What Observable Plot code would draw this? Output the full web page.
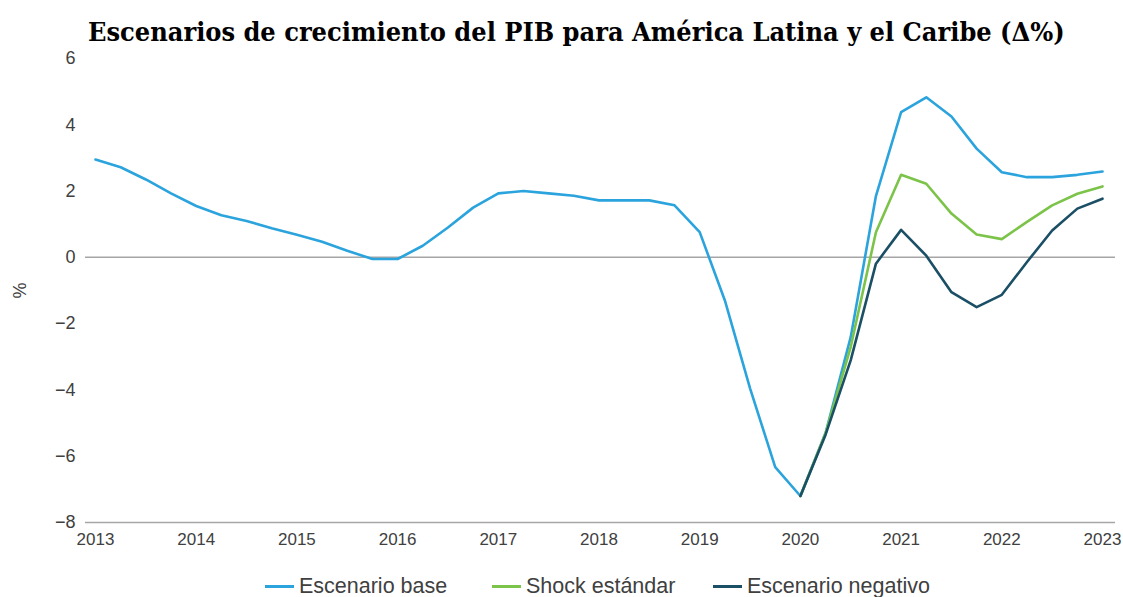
<!DOCTYPE html>
<html>
<head>
<meta charset="utf-8">
<script src="https://cdn.jsdelivr.net/npm/d3@7"></script>
<script src="https://cdn.jsdelivr.net/npm/@observablehq/plot@0.6"></script>
<style>
  html, body { margin: 0; padding: 0; background: #fff; width: 1123px; height: 597px; overflow: hidden; }
  #title { display: block; overflow: visible; }
  #chart svg { display: block; overflow: visible; }
  #legend { height: 24px; margin-top: 17px; position: relative; font-family: "Liberation Sans", Arial, sans-serif; font-size: 21.5px; color: #404040; }
  .item { position: absolute; top: 0; line-height: 24px; white-space: nowrap; }
  .sw { display: inline-block; width: 29px; height: 3px; vertical-align: middle; margin-right: 5px; position: relative; top: -1px; }
</style>
</head>
<body>
<svg id="title" width="1123" height="52">
  <text id="titleText" x="88" y="41" font-family="'DejaVu Serif Condensed', 'DejaVu Serif', serif" font-weight="bold" font-size="31" fill="#000">Escenarios de crecimiento del PIB para América Latina y el Caribe (Δ%)</text>
</svg>
<div id="chart"></div>
<div id="legend"></div>
<script>
const seriesNames = ["Escenario base", "Shock estándar", "Escenario negativo"];
const seriesColors = ["#2ba3dd", "#7cc349", "#1a4f66"];

const periodsBase = [
  2013.00, 2013.25, 2013.50, 2013.75,
  2014.00, 2014.25, 2014.50, 2014.75,
  2015.00, 2015.25, 2015.50, 2015.75,
  2016.00, 2016.25, 2016.50, 2016.75,
  2017.00, 2017.25, 2017.50, 2017.75,
  2018.00, 2018.25, 2018.50, 2018.75,
  2019.00, 2019.25, 2019.50, 2019.75,
  2020.00, 2020.25, 2020.50, 2020.75,
  2021.00, 2021.25, 2021.50, 2021.75,
  2022.00, 2022.25, 2022.50, 2022.75,
  2023.00
];
const base = [
  2.95, 2.72, 2.35, 1.93,
  1.55, 1.27, 1.10, 0.88,
  0.68, 0.47, 0.20, -0.05,
  -0.05, 0.35, 0.90, 1.50,
  1.93, 2.00, 1.93, 1.86,
  1.72, 1.72, 1.72, 1.57,
  0.76, -1.30, -3.95, -6.33,
  -7.20, -5.30, -2.40, 1.85,
  4.38, 4.83, 4.25, 3.28,
  2.57, 2.42, 2.42, 2.49,
  2.59
];

const periodsScen = [
  2020.00, 2020.25, 2020.50, 2020.75,
  2021.00, 2021.25, 2021.50, 2021.75,
  2022.00, 2022.25, 2022.50, 2022.75,
  2023.00
];
const shock = [-7.20, -5.30, -2.70, 0.76, 2.49, 2.22, 1.32, 0.69, 0.55, 1.07, 1.57, 1.92, 2.14];
const negativo = [-7.20, -5.35, -3.10, -0.19, 0.83, 0.05, -1.05, -1.50, -1.13, -0.14, 0.81, 1.47, 1.77];

const xTicks = [2013, 2014, 2015, 2016, 2017, 2018, 2019, 2020, 2021, 2022, 2023];
const yTicks = [-8, -6, -4, -2, 0, 2, 4, 6];

// fit title naturally to the reference width (no glyph compression)
const tt = document.getElementById("titleText");
const natural = tt.getComputedTextLength();
if (natural > 0) tt.setAttribute("font-size", (31 * 977 / natural).toFixed(2));

const data = [
  ...periodsBase.map((t, i) => ({t, v: base[i], s: seriesNames[0]})),
  ...periodsScen.map((t, i) => ({t, v: shock[i], s: seriesNames[1]})),
  ...periodsScen.map((t, i) => ({t, v: negativo[i], s: seriesNames[2]}))
];

const chart = Plot.plot({
  width: 1123,
  height: 505,
  marginLeft: 85,
  marginRight: 8,
  marginTop: 6,
  marginBottom: 35,
  style: { fontFamily: "'Liberation Sans', Arial, sans-serif", fontSize: "17px", color: "#404040", background: "transparent", overflow: "visible" },
  x: { domain: [2012.9007, 2023.129], ticks: xTicks, tickFormat: d => String(d) },
  y: { domain: [-8, 6], ticks: yTicks },
  color: { domain: seriesNames, range: seriesColors },
  marks: [
    Plot.ruleY([0, -8], { stroke: "#a6a6a6", strokeWidth: 1.5 }),
    Plot.axisX({ ticks: xTicks, tickSize: 0, tickPadding: 10, tickFormat: d => String(d), label: null, fontSize: 17, fill: "#404040" }),
    Plot.axisY({ ticks: yTicks, tickSize: 0, tickPadding: 10, label: "%", labelAnchor: "center", labelArrow: "none", labelOffset: 72, fontSize: 18, fill: "#404040" }),
    Plot.lineY(data, { x: "t", y: "v", z: "s", stroke: "s", strokeWidth: 2.6, curve: "linear" })
  ]
});
document.getElementById("chart").appendChild(chart);

const legendPos = [265, 492, 713];
const legend = document.getElementById("legend");
seriesNames.forEach((n, i) => {
  const d = document.createElement("div");
  d.className = "item";
  d.style.left = legendPos[i] + "px";
  const sw = document.createElement("span");
  sw.className = "sw";
  sw.style.background = seriesColors[i];
  d.appendChild(sw);
  d.appendChild(document.createTextNode(n));
  legend.appendChild(d);
});
</script>
</body>
</html>
